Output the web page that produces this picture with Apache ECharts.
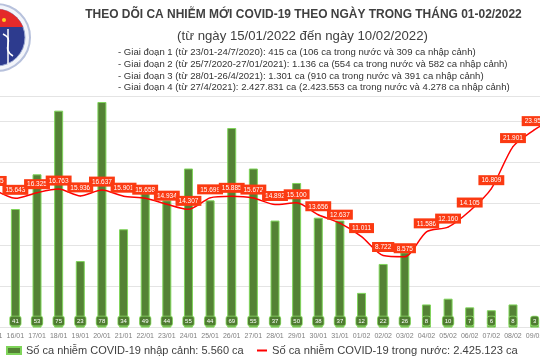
<!DOCTYPE html>
<html><head><meta charset="utf-8">
<script src="https://cdn.jsdelivr.net/npm/echarts@6/dist/echarts.min.js"></script>
<style>html,body{margin:0;padding:0;background:#fff;overflow:hidden;width:540px;height:360px}#c{position:absolute;left:-18px;top:0;width:586px;height:360px}</style>
</head><body><div id="c"></div>
<script>
const categories = ['15/01','16/01','17/01','18/01','19/01','20/01','21/01','22/01','23/01','24/01','25/01','26/01','27/01','28/01','29/01','30/01','31/01','01/02','02/02','03/02','04/02','05/02','06/02','07/02','08/02','09/02','10/02'];
const importedCases = [39,41,53,75,23,78,34,49,44,55,44,69,55,37,50,38,37,12,22,26,8,10,7,6,8,3,5];
const domesticCases = [16715,15643,16325,16763,15936,16637,15901,15658,14934,14307,15699,15885,15672,14892,15100,13656,12637,11011,8722,8575,11586,12160,14105,16809,21901,23955,25400];
const titleText = 'THEO DÕI CA NHIỄM MỚI COVID-19 THEO NGÀY TRONG THÁNG 01-02/2022';
const subtitleText = '(từ ngày 15/01/2022 đến ngày 10/02/2022)';
const phaseLines = [
 '- Giai đoạn 1 (từ 23/01-24/7/2020): 415 ca (106 ca trong nước và 309 ca nhập cảnh)',
 '- Giai đoạn 2 (từ 25/7/2020-27/01/2021): 1.136 ca (554 ca trong nước và 582 ca nhập cảnh)',
 '- Giai đoạn 3 (từ 28/01-26/4/2021): 1.301 ca (910 ca trong nước và 391 ca nhập cảnh)',
 '- Giai đoạn 4 (từ 27/4/2021): 2.427.831 ca (2.423.553 ca trong nước và 4.278 ca nhập cảnh)'
];
const legendImported = 'Số ca nhiễm COVID-19 nhập cảnh: 5.560 ca';
const legendDomestic = 'Số ca nhiễm COVID-19 trong nước: 2.425.123 ca';

const OFF = 18; // container is shifted left so the first/last categories fall outside the view
const cv = document.createElement('canvas').getContext('2d');
function fit(text, weight, family, target){ cv.font = weight+' 100px '+family; return 100*target/cv.measureText(text).width; }
const NARROW = '"Liberation Sans Narrow","Liberation Sans",sans-serif';
const SANS = '"Liberation Sans",Arial,sans-serif';
const titleSize = fit(titleText,'bold',NARROW,437);
const subSize = fit(subtitleText,'normal',NARROW,251);
const phaseSize = (fit(phaseLines[0],'normal',NARROW,362)+fit(phaseLines[1],'normal',NARROW,389)+fit(phaseLines[2],'normal',NARROW,364)+fit(phaseLines[3],'normal',NARROW,392))/4;
const leg1Size = fit(legendImported,'normal',SANS,218);
const leg2Size = fit(legendDomestic,'normal',SANS,246);
const fmt = v => String(v).replace(/\B(?=(\d{3})+(?!\d))/g,'.');

// logo (decorative)
const lcx=-3.5+OFF, lcy=37.5, lr=28.5;
const capPts=[]; {const a0=Math.asin((27-lcy)/lr); for(let i=0;i<=24;i++){const a=Math.PI-a0+((2*Math.PI+a0)-(Math.PI-a0))*i/24; capPts.push([lcx+lr*Math.cos(a), lcy+lr*Math.sin(a)]);}}

const graphics = [
 {type:'circle',shape:{cx:lcx,cy:lcy,r:33.5},style:{fill:'#f3f5fa',stroke:'#b7c1dc',lineWidth:2},z:10},
 {type:'circle',shape:{cx:lcx,cy:lcy,r:lr},style:{fill:'#2d3b8e',stroke:'#9ba8d0',lineWidth:1},z:11},
 {type:'polygon',shape:{points:capPts},style:{fill:'#e42a2a'},z:12},
 {type:'circle',shape:{cx:4+OFF,cy:20,r:2},style:{fill:'#ffd21f'},z:13},
 {type:'line',shape:{x1:8+OFF,y1:29,x2:8+OFF,y2:64},style:{stroke:'#ffffff',lineWidth:1.5},z:13},
 {type:'bezierCurve',shape:{x1:3+OFF,y1:34,cpx1:16+OFF,cpy1:40,cpx2:0+OFF,cpy2:48,x2:13+OFF,y2:56},style:{stroke:'#ffffff',lineWidth:1.5,fill:null},z:13},
 {type:'text',x:303.5+OFF,y:15,style:{text:titleText,font:'bold '+titleSize.toFixed(2)+'px '+NARROW,fill:'#404040',textAlign:'center',textVerticalAlign:'middle'},z:20},
 {type:'text',x:302.5+OFF,y:36,style:{text:subtitleText,font:subSize.toFixed(2)+'px '+NARROW,fill:'#404040',textAlign:'center',textVerticalAlign:'middle'},z:20}
];
const phaseY=[52.7,64.3,76,87.7];
phaseLines.forEach((t,i)=>graphics.push({type:'text',x:118+OFF,y:phaseY[i],style:{text:t,font:phaseSize.toFixed(2)+'px '+NARROW,fill:'#333333',textAlign:'left',textVerticalAlign:'middle'},z:20}));

const chart = echarts.init(document.getElementById('c'),null,{renderer:'canvas'});
chart.setOption({
 animation:false,
 backgroundColor:'#ffffff',
 grid:{left:0.5,right:0.5,top:96.2,bottom:32.4,containLabel:false},
 legend:[
  {data:[legendImported],left:6+OFF,top:343.5,padding:0,itemWidth:14,itemHeight:7,icon:'rect',textStyle:{fontFamily:SANS,fontSize:leg1Size,color:'#404040',lineHeight:14}},
  {data:[legendDomestic],left:257+OFF,top:343.5,padding:0,itemWidth:10,itemHeight:2,icon:'rect',textStyle:{fontFamily:SANS,fontSize:leg2Size,color:'#404040',lineHeight:14}}
 ],
 xAxis:{type:'category',data:categories,axisLine:{show:false},axisTick:{show:false},
  axisLabel:{interval:0,fontSize:7,color:'#7f7f7f',margin:5,fontFamily:SANS}},
 yAxis:[
  {type:'value',min:0,max:28000,interval:5000,axisLabel:{show:false},axisLine:{show:false},axisTick:{show:false},splitLine:{lineStyle:{color:'#e4e4e4',width:1}}},
  {type:'value',min:0,max:80,axisLabel:{show:false},axisLine:{show:false},axisTick:{show:false},splitLine:{show:false}}
 ],
 series:[
  {name:legendImported,type:'bar',yAxisIndex:1,data:importedCases,barWidth:9,
   itemStyle:{color:'#548235',borderColor:'#7fd45a',borderWidth:1},
   label:{show:true,position:'insideBottom',distance:2,color:'#ffffff',fontSize:6,fontFamily:SANS,
    backgroundColor:'#4f7d31',borderColor:'#8fdc6a',borderWidth:0.8,borderRadius:2,padding:[2,2,1,2]},z:2},
  {name:legendDomestic,type:'line',yAxisIndex:0,data:domesticCases,smooth:0.25,symbol:'circle',symbolSize:1,
   itemStyle:{color:'#ff0000'},lineStyle:{color:'#ff0000',width:1.5},
   label:{show:true,position:'top',distance:3,formatter:p=>fmt(p.value),color:'#ffffff',fontSize:6.5,fontFamily:SANS,
    backgroundColor:'#fb3a12',padding:[2,3,1,3]},z:3}
 ],
 graphic:graphics
});
</script></body></html>
